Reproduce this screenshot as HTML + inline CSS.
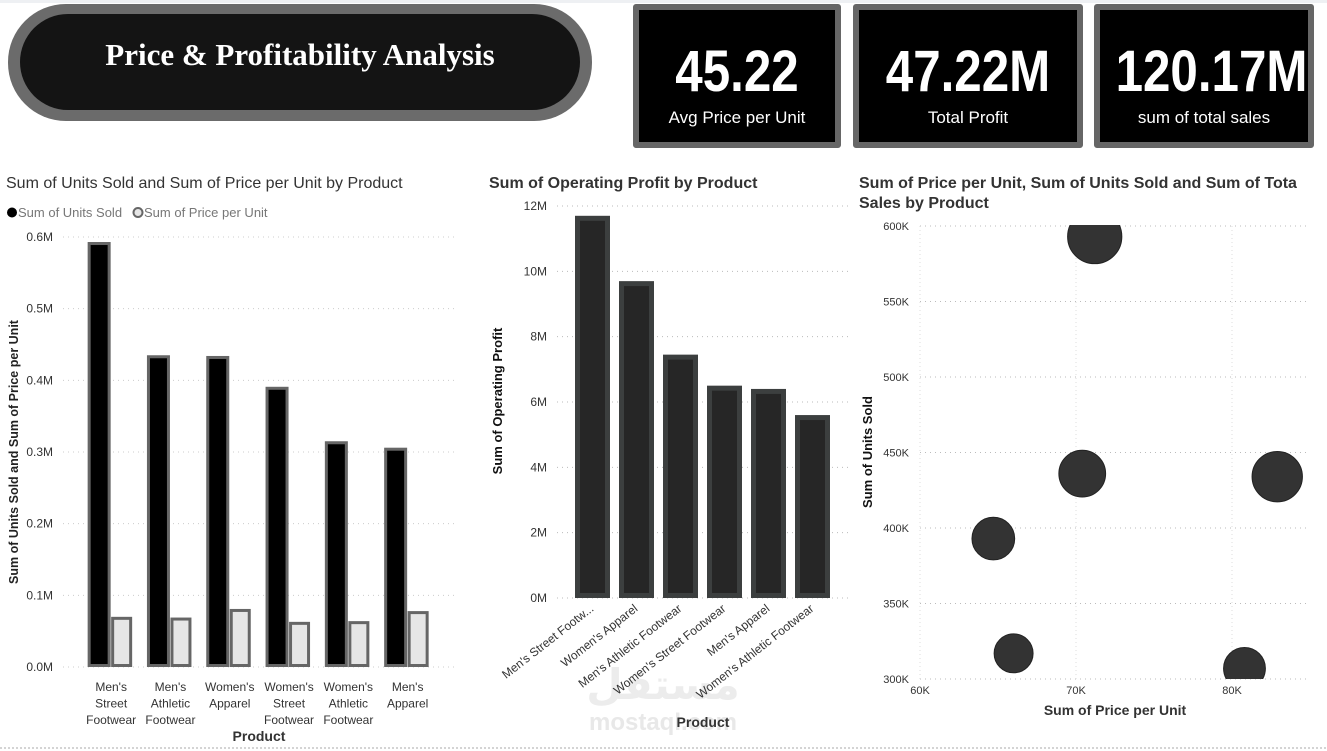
<!DOCTYPE html>
<html><head><meta charset="utf-8">
<style>
body{margin:0;width:1327px;height:751px;background:#fff;overflow:hidden;font-family:"Liberation Sans","DejaVu Sans",sans-serif;position:relative}
.abs{position:absolute}
.kpi{position:absolute;top:4px;height:144px;background:#000;border:6px solid #666;box-sizing:border-box;border-radius:3px;color:#fff;text-align:center}
.kpi .v{position:absolute;left:0;right:0;top:30px;font-size:58px;font-weight:bold;transform:scaleX(0.85);line-height:64px}
.kpi .l{position:absolute;left:0;right:0;top:96px;font-size:17px;line-height:24px}
</style></head><body>
<div class="abs" style="left:0;top:0;width:1327px;height:3px;background:#eef0f3"></div>
<div class="abs" style="left:8px;top:4px;width:584px;height:117px;background:#6b6b6b;border-radius:58px">
 <div class="abs" style="left:12px;top:10px;width:560px;height:96px;background:#141414;border-radius:48px"></div>
 <div class="abs" style="left:0;right:0;top:33px;text-align:center;color:#fff;font-family:'Liberation Serif',serif;font-weight:bold;font-size:31px">Price &amp; Profitability Analysis</div>
</div>
<div class="kpi" style="left:633px;width:208px"><div class="v">45.22</div><div class="l">Avg Price per Unit</div></div>
<div class="kpi" style="left:853px;width:230px"><div class="v">47.22M</div><div class="l">Total Profit</div></div>
<div class="kpi" style="left:1094px;width:220px"><div class="v">120.17M</div><div class="l">sum of total sales</div></div>

<svg class="abs" style="left:0;top:0" width="1327" height="751">
<g id="c1"></g>
<g id="c2"></g>
<g id="c3"></g>
<line x1="0" y1="748" x2="1327" y2="748" stroke="#aaa" stroke-dasharray="2,2"/>
</svg>
<script>
const NS="http://www.w3.org/2000/svg";
function el(p,t,a,txt){const e=document.createElementNS(NS,t);for(const k in a)e.setAttribute(k,a[k]);if(txt!==undefined)e.textContent=txt;p.appendChild(e);return e;}
// Chart 1 data
const c1Products=[["Men's","Street","Footwear"],["Men's","Athletic","Footwear"],["Women's","Apparel"],["Women's","Street","Footwear"],["Women's","Athletic","Footwear"],["Men's","Apparel"]];
const c1Units=[0.593,0.435,0.434,0.391,0.315,0.306];
const c1Price=[0.070,0.069,0.081,0.063,0.064,0.078];
const c1Ticks=[0,0.1,0.2,0.3,0.4,0.5,0.6];
// Chart 2 data
const c2Products=["Men's Street Footw...","Women's Apparel","Men's Athletic Footwear","Women's Street Footwear","Men's Apparel","Women's Athletic Footwear"];
const c2Profit=[11.7,9.7,7.45,6.5,6.4,5.6];
const c2Ticks=[0,2,4,6,8,10,12];
// Chart 3 data
const c3Price=[71.2,70.4,82.9,64.7,66.0,80.8];
const c3Units=[593,436,434,393,317,307];
const c3Sales=[27.7,20.6,23.9,17.2,14.3,16.5];
const c3XTicks=[60,70,80];
const c3YTicks=[300,350,400,450,500,550,600];

// ---- Chart 1
(function(){
const g=document.getElementById('c1');
const y=v=>667-v/0.6*430, step=59.3, x0=81.5;
let t=el(g,'text',{x:6,y:188,'font-size':16,fill:'#333'},'Sum of Units Sold and Sum of Price per Unit by Product');

let lg=el(g,'g',{});
el(lg,'circle',{cx:12,cy:212.5,r:5,fill:'#000'});
el(lg,'text',{x:18,y:217,'font-size':13,fill:'#777'},'Sum of Units Sold');
el(lg,'circle',{cx:138,cy:212.5,r:4.5,fill:'#e6e6e6',stroke:'#666','stroke-width':2});
el(lg,'text',{x:144,y:217,'font-size':13,fill:'#777'},'Sum of Price per Unit');
c1Ticks.forEach(v=>{el(g,'line',{x1:63,x2:455,y1:y(v),y2:y(v),stroke:'#ccc','stroke-dasharray':'1,4'});
 let tl=el(g,'text',{x:53,y:y(v)+4,'font-size':12,fill:'#333','text-anchor':'end'},v.toFixed(1)+'M');
 });
c1Units.forEach((v,i)=>{const cx=x0+step*(i+0.5);
 let b=el(g,'rect',{x:cx-22,y:y(v)+1.5,width:20,height:y(0)-y(v)-3,fill:'#000',stroke:'#666','stroke-width':3});
 
 let b2=el(g,'rect',{x:cx+1.5,y:y(c1Price[i])+1.5,width:18,height:y(0)-y(c1Price[i])-3,fill:'#e6e6e6',stroke:'#666','stroke-width':3});
 
 c1Products[i].forEach((w,j)=>{let tl=el(g,'text',{x:cx,y:691+j*16.5,'font-size':12,fill:'#333','text-anchor':'middle'},w);
  });
});
let xt=el(g,'text',{x:259,y:741,'font-size':14,'font-weight':'bold',fill:'#333','text-anchor':'middle'},'Product');

let yt=el(g,'text',{x:0,y:0,'font-size':12.5,'font-weight':'bold',fill:'#222','text-anchor':'middle',transform:'translate(18,452) rotate(-90)'},'Sum of Units Sold and Sum of Price per Unit');

})();

// ---- Chart 2
(function(){
const g=document.getElementById('c2');
const y=v=>598-v/12*392, step=44, x0=570;
let t=el(g,'text',{x:489,y:188,'font-size':16,'font-weight':'bold',fill:'#333'},'Sum of Operating Profit by Product');

c2Ticks.forEach(v=>{el(g,'line',{x1:557,x2:850,y1:y(v),y2:y(v),stroke:'#bbb','stroke-dasharray':'1,4'});
 let tl=el(g,'text',{x:547,y:y(v)+4,'font-size':12,fill:'#333','text-anchor':'end'},v+'M');
 });
el(g,'text',{x:663,y:699,'font-size':42,'font-weight':'bold',fill:'#ececec','text-anchor':'middle'},'مستقل');
el(g,'text',{x:663,y:730,'font-size':24,'font-weight':'bold',fill:'#e8e8e8','text-anchor':'middle'},'mostaql.com');
c2Profit.forEach((v,i)=>{const cx=x0+step*(i+0.5)+0.5;
 let b=el(g,'rect',{x:cx-15,y:y(v)+2.5,width:30,height:y(0)-y(v)-5,fill:'#262626',stroke:'#3c3f3f','stroke-width':5});
 
 let tl=el(g,'text',{x:cx+2,y:610,'font-size':12,fill:'#333','text-anchor':'end',transform:`rotate(-38 ${cx+2} 610)`},c2Products[i]);
 
});
let xt=el(g,'text',{x:703,y:727,'font-size':14,'font-weight':'bold',fill:'#333','text-anchor':'middle'},'Product');

let yt=el(g,'text',{x:0,y:0,'font-size':13,'font-weight':'bold',fill:'#111','text-anchor':'middle',transform:'translate(502,401) rotate(-90)'},'Sum of Operating Profit');

})();

// ---- Chart 3
(function(){
const g=document.getElementById('c3');
const x=v=>920+(v-60)*15.6, y=v=>679-(v-300)*1.51;
let t=el(g,'text',{x:859,y:188,'font-size':16,'font-weight':'bold',fill:'#333'},'Sum of Price per Unit, Sum of Units Sold and Sum of Tota');

el(g,'text',{x:859,y:208,'font-size':16,'font-weight':'bold',fill:'#333'},'Sales by Product');
c3YTicks.forEach(v=>{el(g,'line',{x1:920,x2:1310,y1:y(v),y2:y(v),stroke:'#bbb','stroke-dasharray':'1,4'});
 let tl=el(g,'text',{x:909,y:y(v)+4,'font-size':11,fill:'#333','text-anchor':'end'},v+'K');
 });
c3XTicks.forEach(v=>{el(g,'line',{x1:x(v),x2:x(v),y1:226,y2:679,stroke:'#ddd','stroke-dasharray':'1,3'});
 let tl=el(g,'text',{x:x(v),y:694,'font-size':11,fill:'#333','text-anchor':'middle'},v+'K');
 });
el(g,'clipPath',{id:'cp3'});
el(document.getElementById('cp3'),'rect',{x:900,y:225,width:427,height:454});
c3Price.forEach((p,i)=>{const r=5.15*Math.sqrt(c3Sales[i]);
 let c=el(g,'circle',{cx:x(p),cy:y(c3Units[i]),r:r,fill:'#333',stroke:'#222','stroke-width':1,'clip-path':'url(#cp3)'});
 });
let xt=el(g,'text',{x:1115,y:715,'font-size':14,'font-weight':'bold',fill:'#333','text-anchor':'middle'},'Sum of Price per Unit');

let yt=el(g,'text',{x:0,y:0,'font-size':13,'font-weight':'bold',fill:'#111','text-anchor':'middle',transform:'translate(872,452) rotate(-90)'},'Sum of Units Sold');

})();
</script>
</body></html>
